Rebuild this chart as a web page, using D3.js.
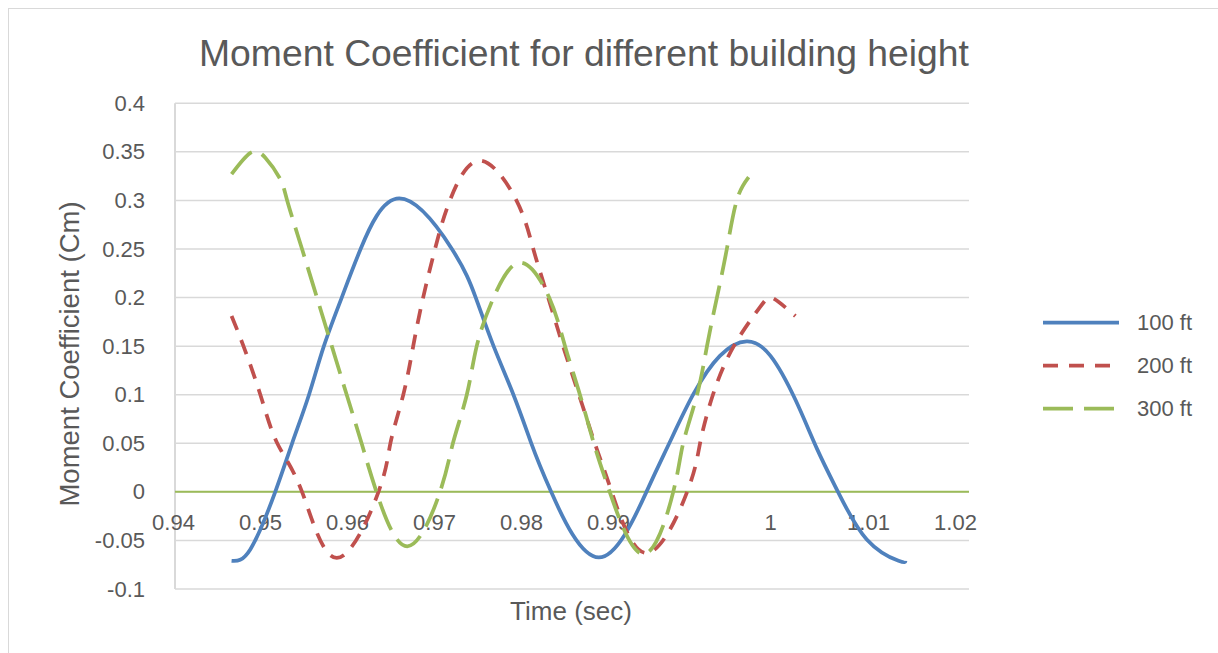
<!DOCTYPE html>
<html>
<head>
<meta charset="UTF-8">
<title>Moment Coefficient</title>
<script src="https://cdn.jsdelivr.net/npm/d3@7"></script>
<style>
  body { margin: 0; background: #fff; }
  svg { display: block; font-family: "Liberation Sans", Arial, sans-serif; }
  .grid line { stroke: #d9d9d9; stroke-width: 1.5px; }
  .tick text { fill: #595959; }
</style>
</head>
<body>
<svg id="chart" width="1218" height="653"></svg>
<script>
// time (sec) and moment coefficient for each building height
const t100 = [0.9457, 0.9476, 0.9501, 0.9518, 0.9535, 0.9550, 0.9568, 0.9587, 0.9626,
              0.9679, 0.9703, 0.9721, 0.9741, 0.9759, 0.9779, 0.9827, 0.9875, 0.9898,
              0.9922, 0.9949, 0.9976, 1.0000, 1.0025, 1.0047, 1.0068, 1.0097, 1.0129, 1.0136];
const cm100 = [-0.071, -0.059, 0.000, 0.050, 0.100, 0.150, 0.200, 0.250, 0.302,
               0.250, 0.200, 0.150, 0.100, 0.050, 0.000, -0.0675, 0.000, 0.050,
               0.100, 0.140, 0.155, 0.140, 0.095, 0.044, 0.000, -0.049, -0.071, -0.071];

const t200 = [0.9457, 0.9469, 0.9486, 0.9503, 0.9528, 0.9563, 0.9605, 0.9617,
              0.9630, 0.9640, 0.9650, 0.9662, 0.9677, 0.9707, 0.9744, 0.9761, 0.9776, 0.9791,
              0.9807, 0.9823, 0.9840, 0.9875, 0.9916, 0.9929, 0.9942, 0.9963,
              0.9990, 1.0003, 1.0025];
const cm200 = [0.181, 0.150, 0.100, 0.050, 0.000, -0.068, 0.000, 0.050,
               0.100, 0.150, 0.200, 0.250, 0.300, 0.341, 0.300, 0.250, 0.200, 0.150,
               0.100, 0.050, 0.000, -0.063, 0.000, 0.050, 0.100, 0.150,
               0.191, 0.199, 0.181];

const t300 = [0.9457, 0.9476, 0.9491, 0.9506, 0.9513, 0.9528, 0.9543, 0.9558, 0.9573, 0.9588,
              0.9603, 0.9634, 0.9667, 0.9680, 0.9694, 0.9704, 0.9721, 0.9748,
              0.9777, 0.9793, 0.9808, 0.9822, 0.9838, 0.9872, 0.9902, 0.9912,
              0.9926, 0.9936, 0.9946, 0.9956, 0.9966, 0.9978];
const cm300 = [0.327, 0.349, 0.344, 0.322, 0.300, 0.250, 0.200, 0.150, 0.100, 0.050,
               0.000, -0.056, 0.000, 0.050, 0.100, 0.150, 0.200, 0.236,
               0.200, 0.150, 0.100, 0.050, 0.000, -0.064, 0.000, 0.050,
               0.100, 0.150, 0.200, 0.250, 0.300, 0.324];

const seriesNames = ["100 ft", "200 ft", "300 ft"];
const xTicks = [0.94, 0.95, 0.96, 0.97, 0.98, 0.99, 1, 1.01, 1.02];
const yTicks = [-0.1, -0.05, 0, 0.05, 0.1, 0.15, 0.2, 0.25, 0.3, 0.35, 0.4];

const series = [
  { name: seriesNames[0], t: t100, v: cm100, color: "#4f81bd", dash: null },
  { name: seriesNames[1], t: t200, v: cm200, color: "#c0504d", dash: "15 11" },
  { name: seriesNames[2], t: t300, v: cm300, color: "#9bbb59", dash: "30 11" }
];

const svg = d3.select("#chart");
const plot = { left: 175, right: 969, top: 103.3, bottom: 589 };

const x = d3.scaleLinear().domain([0.94, 1.02]).range([plot.left, plot.right]);
const y = d3.scaleLinear().domain([-0.1, 0.4]).range([plot.bottom, plot.top]);

// the tick labels in the picture sit a little off their even places
const xLabel = d3.scaleLinear()
  .domain([0.94, 0.99, 1, 1.01, 1.02])
  .range([plot.left - 2, plot.left + 433, plot.left + 595, plot.left + 693, plot.left + 780]);

// outer border of the chart
svg.append("rect")
  .attr("x", 8.5).attr("y", 8.5)
  .attr("width", 1300).attr("height", 700)
  .attr("fill", "none").attr("stroke", "#d9d9d9");

svg.append("text")
  .attr("x", 584).attr("y", 66)
  .attr("text-anchor", "middle")
  .attr("font-size", 37.3)
  .attr("fill", "#595959")
  .text("Moment Coefficient for different building height");

// gridlines
svg.append("g").attr("class", "grid")
  .selectAll("line").data(yTicks).join("line")
  .attr("x1", plot.left).attr("x2", plot.right)
  .attr("y1", d => y(d)).attr("y2", d => y(d));

svg.append("line")
  .attr("x1", plot.left).attr("x2", plot.left)
  .attr("y1", plot.top).attr("y2", plot.bottom)
  .attr("stroke", "#d9d9d9").attr("stroke-width", 2);

// y axis
const yAxis = svg.append("g")
  .attr("transform", `translate(${plot.left},0)`)
  .call(d3.axisLeft(y).tickValues(yTicks).tickSize(0).tickPadding(30)
    .tickFormat(d => String(+d.toFixed(2))));
yAxis.select(".domain").remove();
yAxis.selectAll("text").attr("font-size", 22).attr("font-family", null);

// x axis labels, hung under the zero line
const xAxis = svg.append("g")
  .attr("transform", `translate(0,${y(0)})`)
  .call(d3.axisBottom(xLabel).tickValues(xTicks).tickSize(0).tickPadding(23)
    .tickFormat(d => String(+d.toFixed(2))));
xAxis.select(".domain").remove();
xAxis.selectAll("text").attr("font-size", 22).attr("font-family", null);

// zero line
svg.append("line")
  .attr("x1", plot.left).attr("x2", plot.right)
  .attr("y1", y(0)).attr("y2", y(0))
  .attr("stroke", "#9bbb59").attr("stroke-width", 2);

// axis titles
svg.append("text")
  .attr("x", 571).attr("y", 620)
  .attr("text-anchor", "middle")
  .attr("font-size", 26)
  .attr("fill", "#595959")
  .text("Time (sec)");

svg.append("text")
  .attr("transform", "translate(79,354) rotate(-90)")
  .attr("text-anchor", "middle")
  .attr("font-size", 27.5)
  .attr("fill", "#595959")
  .text("Moment Coefficient (Cm)");

// lines
const line = d3.line()
  .x(d => x(d[0]))
  .y(d => y(d[1]))
  .curve(d3.curveNatural);

svg.append("g").selectAll("path").data(series).join("path")
  .attr("d", s => line(d3.zip(s.t, s.v)))
  .attr("fill", "none")
  .attr("stroke", s => s.color)
  .attr("stroke-width", 3.75)
  .attr("stroke-dasharray", s => s.dash);

// legend
const legend = svg.append("g").attr("transform", "translate(1043,322.7)");
const item = legend.selectAll("g").data(series).join("g")
  .attr("transform", (s, i) => `translate(0,${i * 43})`);
item.append("line")
  .attr("x1", 0).attr("x2", 76)
  .attr("stroke", s => s.color)
  .attr("stroke-width", 3.75)
  .attr("stroke-dasharray", s => s.dash);
item.append("text")
  .attr("x", 94).attr("dy", "0.35em")
  .attr("font-size", 22)
  .attr("fill", "#595959")
  .text(s => s.name);
</script>
</body>
</html>
